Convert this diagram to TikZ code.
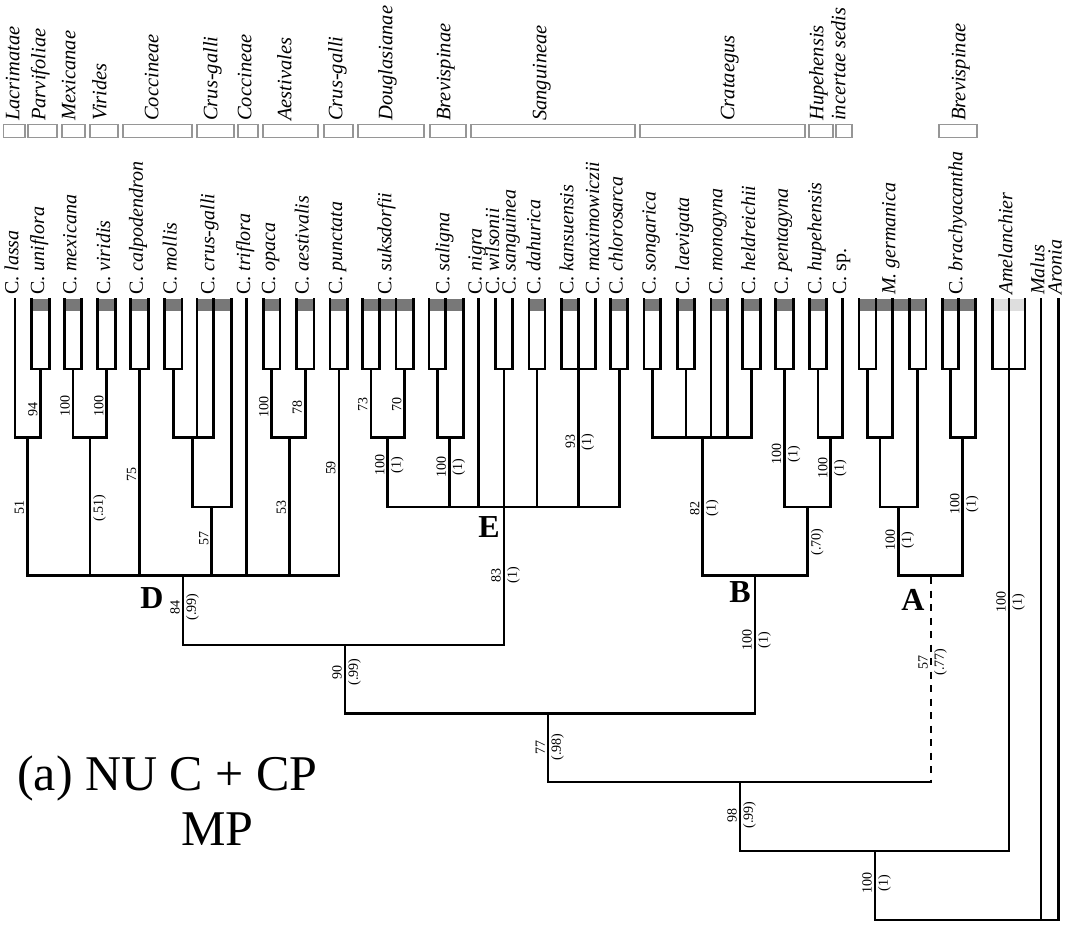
\documentclass[tikz,border=0pt]{standalone}
\usepackage{fontspec}
\setmainfont{Liberation Serif}
\definecolor{band}{RGB}{120,120,120}
\definecolor{lband}{RGB}{222,222,222}
\definecolor{cbox}{RGB}{150,150,150}
\newcommand\tipbox[2]{%
  \fill[band] (#1,299) rectangle (#2,311.5);
  \draw[tl] (#1,299) -- (#1,369) -- (#2,369) -- (#2,299);}
\newcommand\tax[3]{\node[taxl] (t-#1) at (#2,295) {#3};}
\newcommand\clade[5]{%
  \draw[cladebox] (#3,124.5) rectangle (#4,137.5);
  \node[cladel] (c-#1) at (#2,121) {#5};}
\newcommand\supp[5]{%
  \node[supl] (sl-#1) at ({#2-1.5},#3) {#4};
  \node[supr] (sr-#1) at ({#2+1.5},#3) {#5};}
\begin{document}
\begin{tikzpicture}[x=1pt,y=-1pt,
  tl/.style={line width=2.6pt,line cap=rect,black},
  taxl/.style={rotate=90,anchor=west,inner sep=0pt,text height=0.66em,text depth=0pt,font=\fontsize{20}{22}\selectfont},
  cladel/.style={rotate=90,anchor=west,inner sep=0pt,text height=0.66em,text depth=0pt,font=\fontsize{20.5}{22}\selectfont\itshape},
  cladebox/.style={draw=cbox,line width=1.3pt},
  sup/.style={rotate=90,inner sep=1.5pt,font=\fontsize{14}{14}\selectfont},
  supl/.style={sup,anchor=south},
  supr/.style={sup,anchor=north},
  big/.style={inner sep=0pt,font=\fontsize{32}{32}\selectfont\bfseries},
  captxt/.style={inner sep=0pt,anchor=base west,font=\fontsize{50}{50}\selectfont}]
\useasboundingbox (0,0) rectangle (1077,925);

% ---------- clade boxes and names ----------
\clade{1}{16}{3.3}{25}{Lacrimatae}
\clade{2}{42}{28}{57}{Parvifoliae}
\clade{3}{72}{62}{85}{Mexicanae}
\clade{4}{103}{90}{118}{Virides}
\clade{5}{155}{123}{192}{Coccineae}
\clade{6}{214}{197}{234}{Crus-galli}
\clade{7}{248}{238}{258}{Coccineae}
\clade{8}{288}{263}{318}{Aestivales}
\clade{9}{339}{324}{353}{Crus-galli}
\clade{10}{389}{358}{424}{Douglasianae}
\clade{11}{447}{430}{466}{Brevispinae}
\clade{12}{543}{471}{635}{Sanguineae}
\clade{13}{731}{640}{805}{Crataegus}
\clade{14}{820}{809}{833}{Hupehensis}
\clade{15}{842}{836}{852}{incertae sedis}
\clade{16}{962}{939}{977}{Brevispinae}

% ---------- taxon names ----------
\tax{lassa}{15}{C. \textit{lassa}}
\tax{uniflora}{40.7}{C. \textit{uniflora}}
\tax{mexicana}{73}{C. \textit{mexicana}}
\tax{viridis}{106.7}{C. \textit{viridis}}
\tax{calpodendron}{139.5}{C. \textit{calpodendron}}
\tax{mollis}{173.2}{C. \textit{mollis}}
\tax{crusgalli}{211}{C. \textit{crus-galli}}
\tax{triflora}{246.7}{C. \textit{triflora}}
\tax{opaca}{271.7}{C. \textit{opaca}}
\tax{aestivalis}{305.3}{C. \textit{aestivalis}}
\tax{punctata}{338.8}{C. \textit{punctata}}
\tax{suksdorfii}{388}{C. \textit{suksdorfii}}
\tax{saligna}{446}{C. \textit{saligna}}
\tax{nigra}{478.3}{C. \textit{nigra}}
\tax{wilsonii}{495.7}{C. \textit{wilsonii}}
\tax{sanguinea}{512.3}{C. \textit{sanguinea}}
\tax{dahurica}{537}{C. \textit{dahurica}}
\tax{kansuensis}{570}{C. \textit{kansuensis}}
\tax{maximowiczii}{595.7}{C. \textit{maximowiczii}}
\tax{chlorosarca}{619.2}{C. \textit{chlorosarca}}
\tax{songarica}{652.3}{C. \textit{songarica}}
\tax{laevigata}{685.8}{C. \textit{laevigata}}
\tax{monogyna}{719}{C. \textit{monogyna}}
\tax{heldreichii}{751.7}{C. \textit{heldreichii}}
\tax{pentagyna}{784.5}{C. \textit{pentagyna}}
\tax{hupehensis}{818}{C. \textit{hupehensis}}
\tax{sp}{842.7}{C. sp.}
\tax{germanica}{892}{\textit{M. germanica}}
\tax{brachyacantha}{959}{C. \textit{brachyacantha}}
\tax{amelanchier}{1009}{\textit{Amelanchier}}
\tax{malus}{1041}{\textit{Malus}}
\tax{aronia}{1058.3}{\textit{Aronia}}

% ---------- clade D ----------
\draw[tl] (15,299) -- (15,437.5) -- (40.7,437.5) -- (40.7,369);
\tipbox{31.7}{49.7}
\draw[tl] (27.3,437.5) -- (27.3,575.5);
\tipbox{64.3}{81.7}
\tipbox{97.7}{115.7}
\draw[tl] (73,369) -- (73,437.5) -- (106.7,437.5) -- (106.7,369);
\draw[tl] (90,437.5) -- (90,575.5);
\tipbox{130.7}{148.3}
\draw[tl] (139.5,369) -- (139.5,575.5);
\tipbox{164.3}{182}
\fill[band] (197,299) rectangle (231.7,311.5);
\draw[tl] (197,299) -- (197,437.5);
\draw[tl] (213.3,299) -- (213.3,437.5);
\draw[tl] (231.7,299) -- (231.7,507);
\draw[tl] (173.2,369) -- (173.2,437.5) -- (213.3,437.5);
\draw[tl] (192.7,437.5) -- (192.7,507) -- (231.7,507);
\draw[tl] (211.7,507) -- (211.7,575.5);
\draw[tl] (246.7,299) -- (246.7,575.5);
\tipbox{263.3}{280}
\tipbox{296.7}{314}
\draw[tl] (271.7,369) -- (271.7,437.5) -- (305.3,437.5) -- (305.3,369);
\draw[tl] (289.3,437.5) -- (289.3,575.5);
\tipbox{330}{347.7}
\draw[tl] (338.8,369) -- (338.8,575.5);
\draw[tl] (27.3,575.5) -- (338.8,575.5);
\draw[tl] (183,575.5) -- (183,645) -- (504,645);

% ---------- clade E ----------
\fill[band] (362.3,299) rectangle (413.3,311.5);
\draw[tl] (362.3,299) -- (362.3,369) -- (379.3,369) -- (379.3,299);
\draw[tl] (396,299) -- (396,369) -- (413.3,369) -- (413.3,299);
\draw[tl] (370.8,369) -- (370.8,437.5) -- (404.7,437.5) -- (404.7,369);
\draw[tl] (387.7,437.5) -- (387.7,507);
\fill[band] (429,299) rectangle (463.3,311.5);
\draw[tl] (429,299) -- (429,369) -- (445.7,369) -- (445.7,299);
\draw[tl] (463.3,299) -- (463.3,437.5) -- (437.3,437.5) -- (437.3,369);
\draw[tl] (449.3,437.5) -- (449.3,507);
\draw[tl] (478.3,299) -- (478.3,507);
\draw[tl] (495.7,299) -- (495.7,369) -- (512.3,369) -- (512.3,299);
\draw[tl] (504,369) -- (504,645);
\tipbox{529}{545}
\draw[tl] (537,369) -- (537,507);
\fill[band] (561.7,299) rectangle (578.3,311.5);
\draw[tl] (578.3,299) -- (578.3,507);
\draw[tl] (561.7,299) -- (561.7,369) -- (595.7,369) -- (595.7,299);
\tipbox{610.7}{627.7}
\draw[tl] (619.2,369) -- (619.2,507);
\draw[tl] (387.7,507) -- (619.2,507);

% ---------- clade B ----------
\tipbox{644}{660.7}
\tipbox{677.3}{694.3}
\fill[band] (711,299) rectangle (727.3,311.5);
\draw[tl] (711,299) -- (711,437.5);
\draw[tl] (727.3,299) -- (727.3,437.5);
\tipbox{742.7}{760.7}
\draw[tl] (652.3,369) -- (652.3,437.5) -- (751.7,437.5) -- (751.7,369);
\draw[tl] (685.8,369) -- (685.8,437.5);
\draw[tl] (702.7,437.5) -- (702.7,575.5);
\tipbox{775.7}{793.3}
\tipbox{809.3}{826.7}
\draw[tl] (818,369) -- (818,437.5) -- (842.7,437.5) -- (842.7,299);
\draw[tl] (784.5,369) -- (784.5,507) -- (830.7,507) -- (830.7,437.5);
\draw[tl] (807.7,507) -- (807.7,575.5);
\draw[tl] (702.7,575.5) -- (807.7,575.5);
\draw[tl] (755,575.5) -- (755,713.5);
\draw[tl] (345,645) -- (345,713.5) -- (755,713.5);

% ---------- clade A ----------
\fill[band] (859,299) rectangle (926,311.5);
\draw[tl] (859,299) -- (859,369) -- (876,369) -- (876,299);
\draw[tl] (909.3,299) -- (909.3,369) -- (926,369) -- (926,299);
\draw[tl] (892.3,299) -- (892.3,437.5) -- (867.5,437.5) -- (867.5,369);
\draw[tl] (917.7,369) -- (917.7,507) -- (880,507) -- (880,437.5);
\draw[tl] (898.3,507) -- (898.3,575.5);
\fill[band] (942.3,299) rectangle (975.7,311.5);
\draw[tl] (942.3,299) -- (942.3,369) -- (958.3,369) -- (958.3,299);
\draw[tl] (975.7,299) -- (975.7,437.5) -- (950.3,437.5) -- (950.3,369);
\draw[tl] (962.7,437.5) -- (962.7,575.5);
\draw[tl] (898.3,575.5) -- (962.7,575.5);
\draw[tl,line cap=butt,dash pattern=on 7pt off 6.5pt] (931,577) -- (931,782);
\draw[tl] (548,713.5) -- (548,782) -- (931,782);

% ---------- outgroups ----------
\fill[lband] (992.3,299) rectangle (1025,311.5);
\draw[tl] (992.3,299) -- (992.3,369) -- (1025,369) -- (1025,299);
\draw[tl] (1009,299) -- (1009,851);
\draw[tl] (740,782) -- (740,851) -- (1009,851);
\draw[tl] (1041,299) -- (1041,920);
\draw[tl] (1058.3,299) -- (1058.3,920) -- (875,920) -- (875,851);

% ---------- support values ----------
\supp{1}{27.3}{507}{51}{}
\supp{2}{40.7}{410}{94}{}
\supp{3}{73}{406}{100}{}
\supp{4}{106.7}{406}{100}{}
\supp{5}{90}{508}{}{(.51)}
\supp{6}{139.5}{474}{75}{}
\supp{7}{211.7}{538}{57}{}
\supp{8}{271.7}{407}{100}{}
\supp{9}{305.3}{407}{78}{}
\supp{10}{289.3}{507}{53}{}
\supp{11}{338.8}{468}{59}{}
\supp{12}{370.8}{404}{73}{}
\supp{13}{404.7}{404}{70}{}
\supp{14}{387.7}{465}{100}{(1)}
\supp{15}{449.3}{467}{100}{(1)}
\supp{16}{578.3}{442}{93}{(1)}
\supp{17}{504}{575}{83}{(1)}
\supp{18}{183}{607}{84}{(.99)}
\supp{19}{345}{672}{90}{(.99)}
\supp{20}{702.7}{508}{82}{(1)}
\supp{21}{784.5}{454}{100}{(1)}
\supp{22}{830.7}{468}{100}{(1)}
\supp{23}{807.7}{542}{}{(.70)}
\supp{24}{898.3}{540}{100}{(1)}
\supp{25}{962.7}{504}{100}{(1)}
\supp{26}{755}{640}{100}{(1)}
\supp{27}{931}{662}{57}{(.77)}
\supp{28}{548}{747}{77}{(.98)}
\supp{29}{740}{815}{98}{(.99)}
\supp{30}{1009}{602}{100}{(1)}
\supp{31}{875}{883}{100}{(1)}

% ---------- clade letters ----------
\node[big] (lD) at (152,598) {D};
\node[big] (lE) at (489,527) {E};
\node[big] (lB) at (740,592) {B};
\node[big] (lA) at (913,600) {A};

% ---------- caption ----------
\node[captxt] (cap1) at (17,790) {(a) NU C + CP};
\node[captxt] (cap2) at (181,845) {MP};
\end{tikzpicture}
\end{document}
